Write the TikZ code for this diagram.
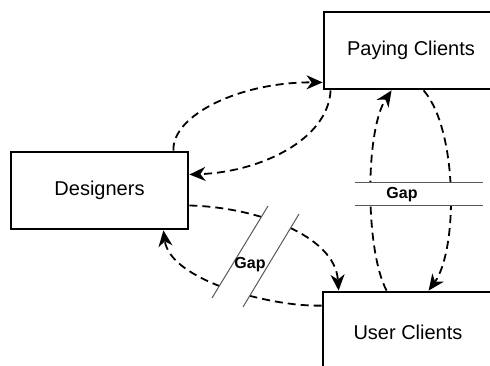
\documentclass[tikz,border=0pt]{standalone}
\usepackage{fontspec}
\setmainfont{Liberation Sans}
\usetikzlibrary{arrows.meta}
\tikzset{
	box/.style={draw, line width=2.8pt, minimum height=77pt, inner sep=0pt, font=\fontsize{20}{24}\selectfont},
	flow/.style={dash pattern=on 8pt off 5pt, line width=1.8pt, -{Stealth[length=16pt,width=14pt,inset=5pt]}},
	gapline/.style={gray!70!black, line width=1pt},
	gaplabel/.style={font=\bfseries\fontsize{16}{18}\selectfont, inner sep=0pt}
}

\begin{document}
\begin{tikzpicture}[x=1pt, y=-1pt]
		\useasboundingbox (0, 0) rectangle (490, 366);
		\clip (0, 0) rectangle (490, 366);
		\node(des)[box, minimum width=177pt] at (99.5, 190.5) {Designers};
		\node(pay)[box, minimum width=174pt] at (411, 50.5) {Paying Clients};
		\node(usr)[box, minimum width=170pt, minimum height=80pt] at (408, 332) {User Clients};
		% designers <-> paying clients
		\draw[flow] ([xshift=-16pt]des.north east) .. controls (172, 115) and (240, 82) .. ([yshift=8pt]pay.south west);
		\draw[flow] ([xshift=8pt]pay.south west) .. controls (328, 140) and (260, 172) .. ([yshift=16pt]des.east);
		% designers <-> user clients
		\draw[flow] ([yshift=-15pt]des.east) .. controls (255, 207) and (335, 235) .. ([xshift=17pt]usr.north west);
		\draw[flow] ([yshift=-15pt]usr.north west) .. controls (270, 307) and (170, 280) .. ([xshift=-26pt]des.south east);
		% paying clients <-> user clients
		\draw[flow] ([xshift=65pt]usr.north west) .. controls (365, 250) and (365, 130) .. ([xshift=69pt]pay.south west);
		\draw[flow] ([xshift=101pt]pay.south west) .. controls (458, 130) and (458, 250) .. ([xshift=107pt]usr.north west);
		% gaps
		\fill[white] (212, 298) -- (268, 206) -- (299, 214) -- (243, 307) -- cycle;
		\draw[gapline] (212, 298) -- (268, 206);
		\draw[gapline] (243, 307) -- (299, 214);
		\node(gapa)[gaplabel] at (250, 265) {Gap};
		\fill[white] (355, 183) rectangle (483, 206);
		\draw[gapline] (355, 183) -- (483, 183);
		\draw[gapline] (355, 206) -- (483, 206);
		\node(gapb)[gaplabel] at (402, 195) {Gap};
\end{tikzpicture}
\end{document}
